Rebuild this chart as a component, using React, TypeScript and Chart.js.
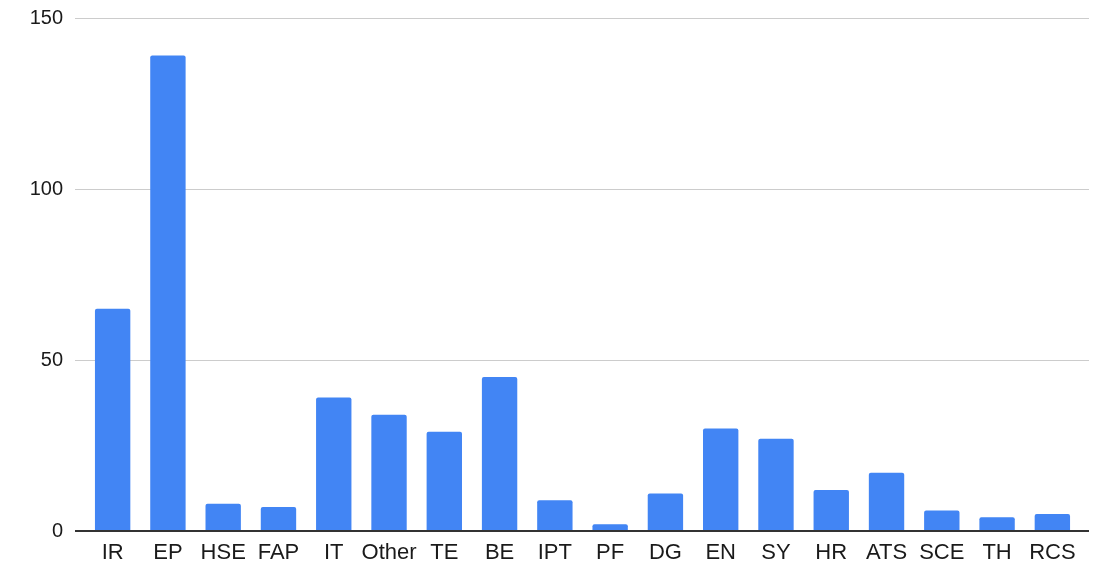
import React, { useEffect, useRef } from "react";
import { Chart, registerables } from "chart.js";

Chart.register(...registerables);

const categories = ["IR", "EP", "HSE", "FAP", "IT", "Other", "TE", "BE", "IPT", "PF", "DG", "EN", "SY", "HR", "ATS", "SCE", "TH", "RCS"];
const values = [65, 139, 8, 7, 39, 34, 29, 45, 9, 2, 11, 30, 27, 12, 17, 6, 4, 5];
const yTicks = [0, 50, 100, 150];

const gridPlugin = {
  id: "extGrid",
  beforeDatasetsDraw(chart: any) {
    const { ctx, chartArea, scales } = chart;
    const y = scales.y;
    ctx.save();
    ctx.strokeStyle = "#cccccc";
    ctx.lineWidth = 1;
    yTicks.forEach((v) => {
      if (v === 0) return;
      const py = Math.round(y.getPixelForValue(v)) + 0.5;
      ctx.beginPath();
      ctx.moveTo(chartArea.left - 10, py);
      ctx.lineTo(chartArea.right + 9, py);
      ctx.stroke();
    });
    ctx.restore();
  },
  afterDatasetsDraw(chart: any) {
    const { ctx, chartArea, scales } = chart;
    const y = scales.y;
    ctx.save();
    ctx.strokeStyle = "#333333";
    ctx.lineWidth = 2;
    const py = Math.round(y.getPixelForValue(0));
    ctx.beginPath();
    ctx.moveTo(chartArea.left - 10, py);
    ctx.lineTo(chartArea.right + 9, py);
    ctx.stroke();
    ctx.restore();
  },
};

export default function App() {
  const ref = useRef<HTMLCanvasElement>(null);
  useEffect(() => {
    if (!ref.current) return;
    const chart = new Chart(ref.current, {
      type: "bar",
      data: {
        labels: categories,
        datasets: [
          {
            data: values,
            backgroundColor: "#4285F4",
            borderRadius: 2,
            borderSkipped: "bottom",
            barPercentage: 0.64,
            categoryPercentage: 1,
          },
        ],
      },
      options: {
        animation: false,
        responsive: false,
        maintainAspectRatio: false,
        layout: { padding: { left: 0, right: 20, top: 18, bottom: 0 } },
        plugins: { legend: { display: false }, tooltip: { enabled: false } },
        scales: {
          x: {
            grid: { display: false, drawTicks: false },
            border: { display: false },
            ticks: {
              color: "#1a1a1a",
              font: { family: "'Liberation Sans', Arial, sans-serif", size: 22 },
              padding: 9,
              maxRotation: 0,
              autoSkip: false,
            },
            afterFit: (s: any) => {
              s.height = 36;
            },
          },
          y: {
            min: 0,
            max: 150,
            grid: { display: false, drawTicks: true, tickLength: 22 },
            border: { display: false },
            ticks: {
              stepSize: 50,
              color: "#1a1a1a",
              font: { family: "'Liberation Sans', Arial, sans-serif", size: 20 },
              padding: 0,
            },
            afterFit: (s: any) => {
              s.width = 85;
            },
          },
        },
      },
      plugins: [gridPlugin],
    });
    return () => chart.destroy();
  }, []);
  return (
    <div style={{ position: "fixed", left: 0, top: 0, width: 1100, height: 567, background: "#fff" }}>
      <canvas ref={ref} width={1100} height={567} style={{ display: "block" }} />
    </div>
  );
}
